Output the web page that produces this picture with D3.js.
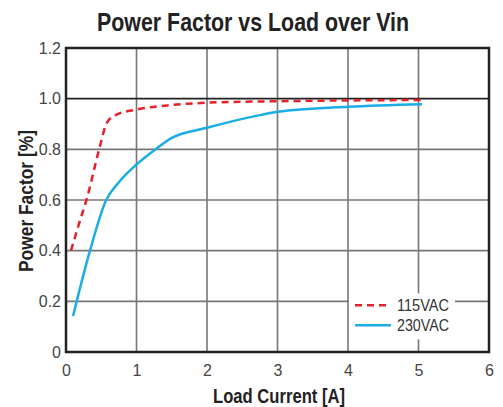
<!DOCTYPE html>
<html>
<head>
<meta charset="utf-8">
<script src="https://cdn.jsdelivr.net/npm/d3@7"></script>
<style>
  body { margin: 0; background: #fff; }
  svg { display: block; }
  .tick text { font-family: "Liberation Sans", sans-serif; font-size: 16px; fill: #444; }
  .ttl { font-family: "Liberation Sans", sans-serif; font-weight: bold; fill: #222; }
</style>
</head>
<body>
<div id="app"></div>
<script>
// data
var xTicks = [0, 1, 2, 3, 4, 5, 6];
var yTicks = [0, 0.2, 0.4, 0.6, 0.8, 1.0, 1.2];
var seriesNames = ["115VAC", "230VAC"];
var loadA115 = [0.07, 0.2, 0.3, 0.47, 0.58, 0.7, 1.0, 1.5, 2, 3, 4, 5.05];
var pf115 = [0.40, 0.52, 0.61, 0.80, 0.905, 0.935, 0.957, 0.975, 0.984, 0.99, 0.993, 0.995];
var loadA230 = [0.1, 0.34, 0.57, 0.75, 1.0, 1.27, 1.5, 2, 2.75, 3, 4, 5.05];
var pf230 = [0.142, 0.40, 0.60, 0.67, 0.74, 0.80, 0.845, 0.885, 0.935, 0.948, 0.968, 0.978];

var W = 503, H = 407;
var margin = {top: 48, right: 14, bottom: 55, left: 66};
var width = W - margin.left - margin.right;
var height = H - margin.top - margin.bottom;

var x = d3.scaleLinear().domain([0, 6]).range([0, width]);
var y = d3.scaleLinear().domain([0, 1.2]).range([height, 0]);

var svg = d3.select("#app").append("svg")
    .attr("width", W)
    .attr("height", H);

// title (condensed look via textLength)
svg.append("text")
    .attr("class", "ttl")
    .attr("x", 253)
    .attr("y", 31)
    .attr("text-anchor", "middle")
    .attr("font-size", 26)
    .attr("textLength", 312)
    .attr("lengthAdjust", "spacingAndGlyphs")
    .text("Power Factor vs Load over Vin");

var g = svg.append("g")
    .attr("transform", "translate(" + margin.left + "," + margin.top + ")");

// grid
g.append("g").selectAll("line.gx")
    .data(xTicks.slice(1, -1))
    .enter().append("line")
    .attr("x1", function(d) { return x(d); })
    .attr("x2", function(d) { return x(d); })
    .attr("y1", 0).attr("y2", height)
    .attr("stroke", "#777").attr("stroke-width", 1.6);

g.append("g").selectAll("line.gy")
    .data(yTicks.slice(1, -1))
    .enter().append("line")
    .attr("x1", 0).attr("x2", width)
    .attr("y1", function(d) { return y(d); })
    .attr("y2", function(d) { return y(d); })
    .attr("stroke", function(d) { return d === 1.0 ? "#222" : "#777"; })
    .attr("stroke-width", 1.6);

// axes (labels only)
var xAxis = g.append("g")
    .attr("transform", "translate(0," + height + ")")
    .call(d3.axisBottom(x).tickValues(xTicks).tickSize(0).tickPadding(13).tickFormat(d3.format("d")));
xAxis.select(".domain").remove();

var yAxis = g.append("g")
    .call(d3.axisLeft(y).tickValues(yTicks).tickSize(0).tickPadding(5)
      .tickFormat(function(d) { return d === 0 ? "0" : d3.format(".1f")(d); }));
yAxis.select(".domain").remove();

// legend box (covers grid)
var lg = g.append("g").attr("transform", "translate(" + (x(4) + 1) + "," + (y(0.2) - 8) + ")");
lg.append("rect").attr("width", 106).attr("height", 46).attr("fill", "#fff");

// frame
g.append("rect")
    .attr("width", width).attr("height", height)
    .attr("fill", "none").attr("stroke", "#222").attr("stroke-width", 2.5);

// lines
var line = d3.line()
    .x(function(d) { return x(d[0]); })
    .y(function(d) { return y(d[1]); })
    .curve(d3.curveMonotoneX);

var d115 = loadA115.map(function(v, i) { return [v, pf115[i]]; });
var d230 = loadA230.map(function(v, i) { return [v, pf230[i]]; });

g.append("path").datum(d230)
    .attr("d", line)
    .attr("fill", "none").attr("stroke", "#1aade6").attr("stroke-width", 2.5);

g.append("path").datum(d115)
    .attr("d", line)
    .attr("fill", "none").attr("stroke", "#e8202a").attr("stroke-width", 2.5)
    .attr("stroke-dasharray", "7,5");

// legend entries
var colors = ["#e8202a", "#1aade6"];
var dashes = ["7,5", null];
seriesNames.forEach(function(name, i) {
    var yy = 12 + i * 20;
    lg.append("line")
        .attr("x1", 6).attr("x2", 42).attr("y1", yy).attr("y2", yy)
        .attr("stroke", colors[i]).attr("stroke-width", 2.5)
        .attr("stroke-dasharray", dashes[i]);
    lg.append("text")
        .attr("x", 48).attr("y", yy + 6)
        .attr("font-family", "Liberation Sans, sans-serif")
        .attr("font-size", 16).attr("fill", "#333")
        .attr("textLength", 52)
        .attr("lengthAdjust", "spacingAndGlyphs")
        .text(name);
});

// axis titles
svg.append("text")
    .attr("class", "ttl")
    .attr("x", 279)
    .attr("y", 403)
    .attr("text-anchor", "middle")
    .attr("font-size", 21)
    .attr("textLength", 132)
    .attr("lengthAdjust", "spacingAndGlyphs")
    .text("Load Current [A]");

svg.append("text")
    .attr("class", "ttl")
    .attr("transform", "translate(33,201) rotate(-90)")
    .attr("text-anchor", "middle")
    .attr("font-size", 21)
    .attr("textLength", 142)
    .attr("lengthAdjust", "spacingAndGlyphs")
    .text("Power Factor [%]");
</script>
</body>
</html>
